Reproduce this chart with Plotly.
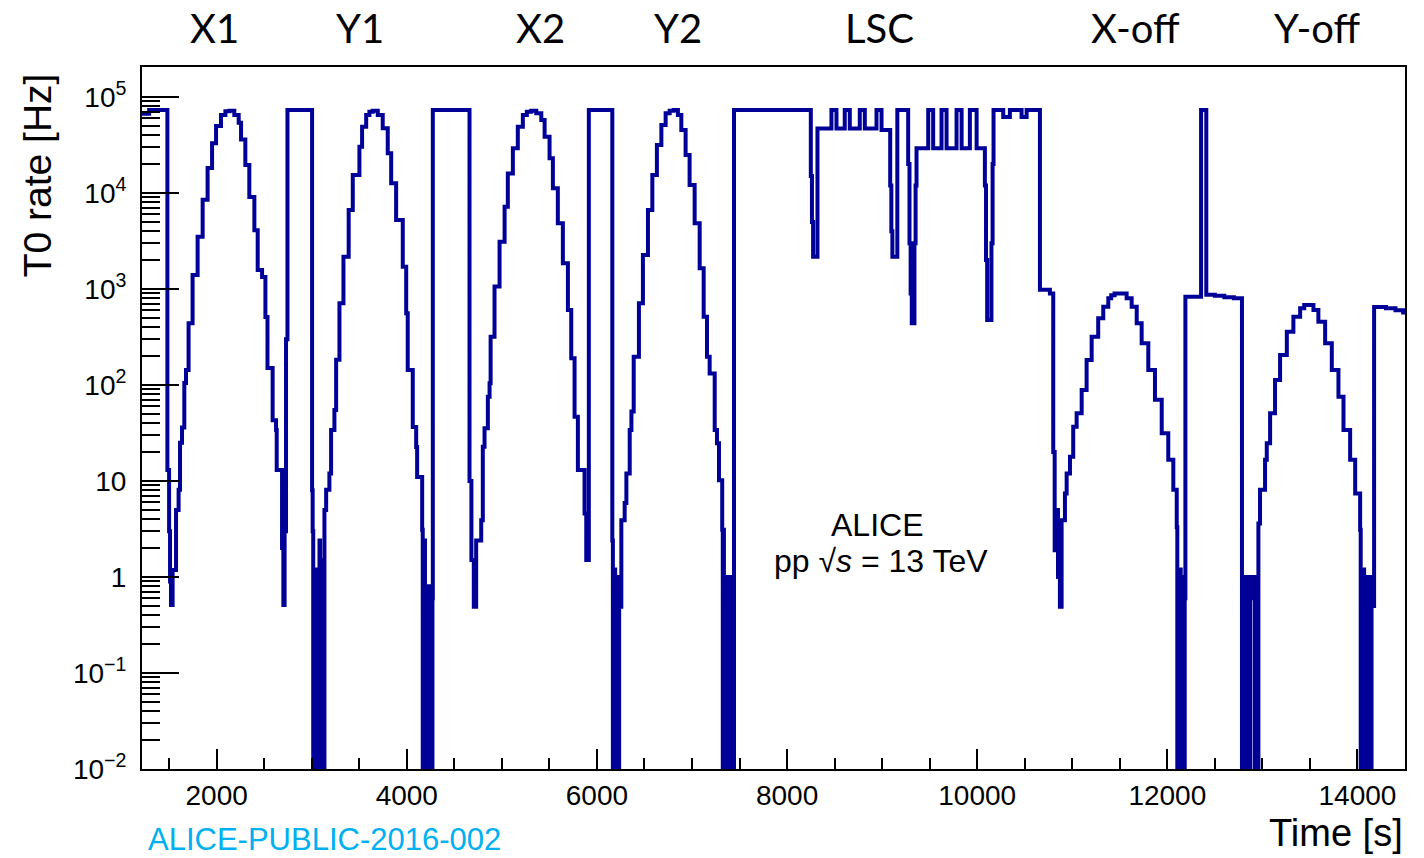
import plotly.graph_objects as go

# ---------------- data (time in s, T0 rate in Hz) ----------------
# initial plateau + X1 scan
x1_t = [1215, 1290, 1482, 1500, 1510, 1520, 1537, 1573, 1600, 1615, 1636, 1660, 1678, 1705,
        1747, 1800, 1853, 1905, 1952, 1994, 2046, 2092, 2134, 2186, 2232, 2257, 2302, 2344,
        2397, 2432, 2478, 2513, 2535, 2589, 2625, 2632, 2688, 2702, 2715, 2730]
x1_r = [67000, 73000, 13, 3, 0.9, 0.51, 1.18, 5.0, 8.1, 25, 36, 105, 143, 440,
        1400, 3500, 8500, 18200, 33000, 50000, 65000, 71000, 72000, 65000, 54000, 36000, 19600, 9100,
        4100, 1580, 1330, 511, 150, 43, 34, 13, 2.0, 0.51, 3, 300]

# plateau, dip, Y1 scan
y1_t = [2745, 3004, 3010, 3016, 3022, 3028, 3034, 3040, 3046, 3052, 3058, 3064, 3070, 3076,
        3082, 3088, 3094, 3100, 3106, 3112, 3118, 3124, 3134, 3152,
        3186, 3204, 3239, 3257, 3292, 3334, 3389, 3432, 3502, 3530, 3573, 3607, 3642, 3695,
        3747, 3800, 3836, 3888, 3958, 3994, 4010, 4063, 4099, 4109, 4162, 4168, 4174, 4180,
        4186, 4192, 4198, 4204, 4210, 4216, 4222, 4228, 4234, 4240, 4246, 4252, 4258, 4264, 4270]
y1_r = [73000, 8, 3, 0.001, 0.9, 0.001, 1.1, 0.001, 0.8, 0.001, 1.2, 0.001, 1.0, 0.001,
        2.4, 0.001, 1.3, 0.001, 1.0, 0.001, 1.5, 0.001, 5.0, 8.1,
        12, 34, 55, 183, 710, 2170, 6650, 15400, 30300, 49000, 65000, 70300, 72000, 65000,
        47200, 25900, 12600, 5240, 1710, 558, 143, 36.5, 22.6, 11, 3.1, 0.001, 2.4, 0.001,
        2.4, 0.001, 0.49, 0.001, 0.7, 0.001, 0.6, 0.001, 0.8, 0.001, 0.5, 0.001, 0.7, 0.001, 0.6]

# plateau, X2 scan
x2_t = [4274, 4660, 4680, 4705, 4730, 4783, 4800, 4818, 4853, 4871, 4882, 4923, 4976, 5029,
        5063, 5116, 5168, 5221, 5263, 5309, 5362, 5415, 5450, 5502, 5537, 5589, 5642, 5695,
        5730, 5765, 5800, 5870, 5888]
x2_r = [73000, 10, 1.5, 0.49, 2.4, 3.9, 22.8, 35.4, 75.5, 104, 318, 1060, 3110, 7200,
        16000, 29200, 49000, 65000, 70300, 72000, 67600, 57500, 38500, 23000, 11200, 4830, 1850, 604,
        190, 46.8, 13, 4.6, 1.5]

# plateau, dip, Y2 scan
y2_t = [5915, 6162, 6168, 6174, 6180, 6186, 6192, 6198, 6204, 6210, 6216, 6222, 6228, 6234,
        6257, 6292, 6310, 6345, 6363,
        6387, 6442, 6484, 6537, 6583, 6631, 6678, 6723, 6765, 6807, 6852, 6888, 6933, 6975,
        7028, 7081, 7123, 7158, 7186, 7239, 7263, 7284, 7318, 7324, 7330, 7336, 7342, 7348,
        7354, 7360, 7366, 7372, 7378, 7384, 7390, 7396, 7402, 7408, 7414, 7420, 7426, 7432]
y2_r = [73000, 2.4, 0.001, 1.0, 0.001, 1.2, 0.001, 0.9, 0.001, 1.0, 0.001, 0.8, 0.001, 0.49,
        3.9, 5.9, 12, 34, 53,
        197, 710, 2260, 6650, 15400, 31600, 51100, 67600, 72000, 73000, 65000, 45300, 24900, 12100,
        4830, 1640, 514, 197, 132, 34, 24.7, 10.2, 3.1, 0.001, 3.1, 0.001, 1.0, 0.001,
        1.0, 0.001, 0.8, 0.001, 1.0, 0.001, 0.8, 0.001, 1.0, 0.001, 0.7, 0.001, 0.6, 0.001]

# long plateau, length-scale calibration (LSC)
lsc_t = [7442, 8239, 8250, 8262, 8274, 8320, 8467, 8520, 8607, 8660, 8765, 8818, 8941, 8994,
         9085, 9097, 9108, 9160, 9274, 9288, 9300, 9312, 9340, 9352, 9362, 9485, 9537, 9625,
         9678, 9783, 9836, 9923, 9994, 10081, 10093, 10105, 10150, 10162, 10172, 10274, 10344,
         10467, 10520, 10660, 10765, 10800, 10815, 10835, 10850, 10870]
lsc_r = [73000, 73000, 15000, 5000, 2170, 47000, 73000, 47000, 73000, 47000, 73000, 47000, 73000, 45300,
         12000, 4000, 2170, 73000, 20000, 3000, 900, 440, 3000, 12000, 29200, 73000, 29200, 73000,
         29200, 73000, 29200, 73000, 29200, 12000, 2000, 475, 3000, 20000, 73000, 62000, 73000,
         62000, 73000, 980, 900, 20, 1.9, 5, 1.0, 0.49]

# X-off scan, shelf with spike, dips before Y-off
xoff_t = [10888, 10923, 10941, 10976, 11010, 11046, 11099, 11151, 11204, 11273, 11326, 11379,
          11410, 11445, 11572, 11625, 11678, 11730, 11800, 11870, 11941, 12010, 12063, 12099,
          12105, 12111, 12117, 12123, 12129, 12135, 12141, 12147, 12153, 12159, 12165, 12171,
          12177, 12183, 12190, 12355, 12410, 12500, 12600, 12700,
          12785, 12792, 12800, 12810, 12816, 12822, 12828, 12834, 12840, 12846, 12852, 12858,
          12864, 12870, 12900, 12918, 12924, 12930, 12936, 12942, 12948, 12954]
xoff_r = [3.9, 7.4, 12, 17.9, 36.8, 50.7, 88.7, 182, 318, 495, 655, 800,
          860, 900, 800, 655, 440, 272, 143, 70, 31.4, 16.6, 8.1, 3.3,
          0.001, 1.0, 0.001, 0.8, 0.001, 1.2, 0.001, 0.9, 0.001, 1.0, 0.001, 0.7,
          0.001, 0.6, 830, 73000, 870, 850, 820, 800,
          0.001, 0.9, 0.001, 1.0, 0.001, 0.8, 0.001, 1.0, 0.001, 0.7, 0.001, 0.9,
          0.001, 1.0, 0.6, 0.001, 1.0, 0.001, 0.8, 0.001, 1.0, 0.001]

# Y-off scan and final shelf
yoff_t = [12958, 12975, 13028, 13046, 13081, 13133, 13186, 13257, 13326, 13397, 13440, 13537,
          13589, 13660, 13730, 13800, 13853, 13923, 13976, 14028, 14034, 14040, 14046, 14052,
          14058, 14064, 14070, 14076, 14082, 14088, 14094, 14100, 14106, 14112, 14118, 14124,
          14130, 14136, 14142, 14148, 14175, 14300, 14400, 14480, 14500]
yoff_r = [3.6, 8.1, 16.6, 24.7, 50.7, 113, 205, 359, 514, 630, 680, 604,
          457, 272, 143, 75.5, 34, 16.6, 7.4, 3.1, 0.001, 1.0, 0.001, 0.7,
          0.001, 1.2, 0.001, 0.8, 0.001, 1.0, 0.001, 0.6, 0.001, 0.9, 0.001, 0.7,
          0.001, 1.0, 0.001, 0.5, 650, 630, 600, 570, 560]

time_s = x1_t + y1_t + x2_t + y2_t + lsc_t + xoff_t + yoff_t
rate_hz = x1_r + y1_r + x2_r + y2_r + lsc_r + xoff_r + yoff_r

scan_labels = ["X1", "Y1", "X2", "Y2", "LSC", "X-off", "Y-off"]
scan_label_t = [1976, 3512, 5406, 6849, 8975, 11670, 13575]

y_tickvals = [1e-2, 1e-1, 1, 10, 1e2, 1e3, 1e4, 1e5]
y_ticktext = ["10<sup>\u22122</sup>", "10<sup>\u22121</sup>", "1", "10",
              "10<sup>2</sup>", "10<sup>3</sup>", "10<sup>4</sup>", "10<sup>5</sup>"]
y_minor = [m * 10.0 ** e for e in range(-2, 5) for m in range(2, 10)]

FONT = "Liberation Sans, Arial, Helvetica, sans-serif"

fig = go.Figure()
fig.add_trace(go.Scatter(x=time_s, y=rate_hz, mode="lines",
                         line=dict(color="#000099", width=4, shape="hv"),
                         showlegend=False, hoverinfo="x+y"))

fig.update_layout(
    width=1424, height=858,
    margin=dict(l=142, r=19, t=67, b=89),
    paper_bgcolor="white", plot_bgcolor="white",
    font=dict(family=FONT, color="black"),
    showlegend=False,
)

fig.update_xaxes(
    range=[1215, 14500], showgrid=False, zeroline=False,
    showline=True, linecolor="black", linewidth=2, mirror=True,
    tickmode="linear", tick0=0, dtick=2000, tickformat="d",
    ticks="inside", ticklen=20, tickwidth=1.5, tickcolor="black",
    tickfont=dict(size=28, family=FONT),
    minor=dict(ticks="inside", ticklen=11, tickwidth=1.5, tickcolor="black",
               dtick=500, tick0=0, showgrid=False),
)
fig.update_yaxes(
    type="log", range=[-2, 5.3125], showgrid=False, zeroline=False,
    showline=True, linecolor="black", linewidth=2, mirror=True,
    tickmode="array", tickvals=y_tickvals, ticktext=y_ticktext,
    ticks="inside", ticklen=37, tickwidth=1.5, tickcolor="black",
    tickfont=dict(size=28, family=FONT),
    ticklabelstandoff=8,
    minor=dict(ticks="inside", ticklen=18, tickwidth=1.5, tickcolor="black",
               tickmode="array", tickvals=y_minor, showgrid=False),
)

for lab, t in zip(scan_labels, scan_label_t):
    fig.add_annotation(x=t, xref="x", y=1.056, yref="paper", text=lab, showarrow=False,
                       font=dict(family="Lato, Open Sans, sans-serif", size=40, color="black"),
                       xanchor="center", yanchor="middle")

fig.add_annotation(x=0.582, y=0.3476, xref="paper", yref="paper", text="ALICE",
                   showarrow=False, font=dict(family=FONT, size=32, color="black"),
                   xanchor="center", yanchor="middle")
fig.add_annotation(x=0.5853, y=0.2963, xref="paper", yref="paper",
                   text="pp \u221a<i>s</i> = 13 TeV",
                   showarrow=False, font=dict(family=FONT, size=32, color="black"),
                   xanchor="center", yanchor="middle")
fig.add_annotation(x=-0.083, y=0.846, xref="paper", yref="paper", text="T0 rate [Hz]",
                   textangle=-90, showarrow=False, font=dict(family=FONT, size=39, color="black"),
                   xanchor="center", yanchor="middle")
fig.add_annotation(x=1.0, y=-0.0912, xref="paper", yref="paper", text="Time [s]",
                   showarrow=False, font=dict(family=FONT, size=38, color="black"),
                   xanchor="right", yanchor="middle")
fig.add_annotation(x=0.0034, y=-0.101, xref="paper", yref="paper", text="ALICE-PUBLIC-2016-002",
                   showarrow=False, font=dict(family=FONT, size=31, color="#00B0F0"),
                   xanchor="left", yanchor="middle")

fig.write_html("out.html")
